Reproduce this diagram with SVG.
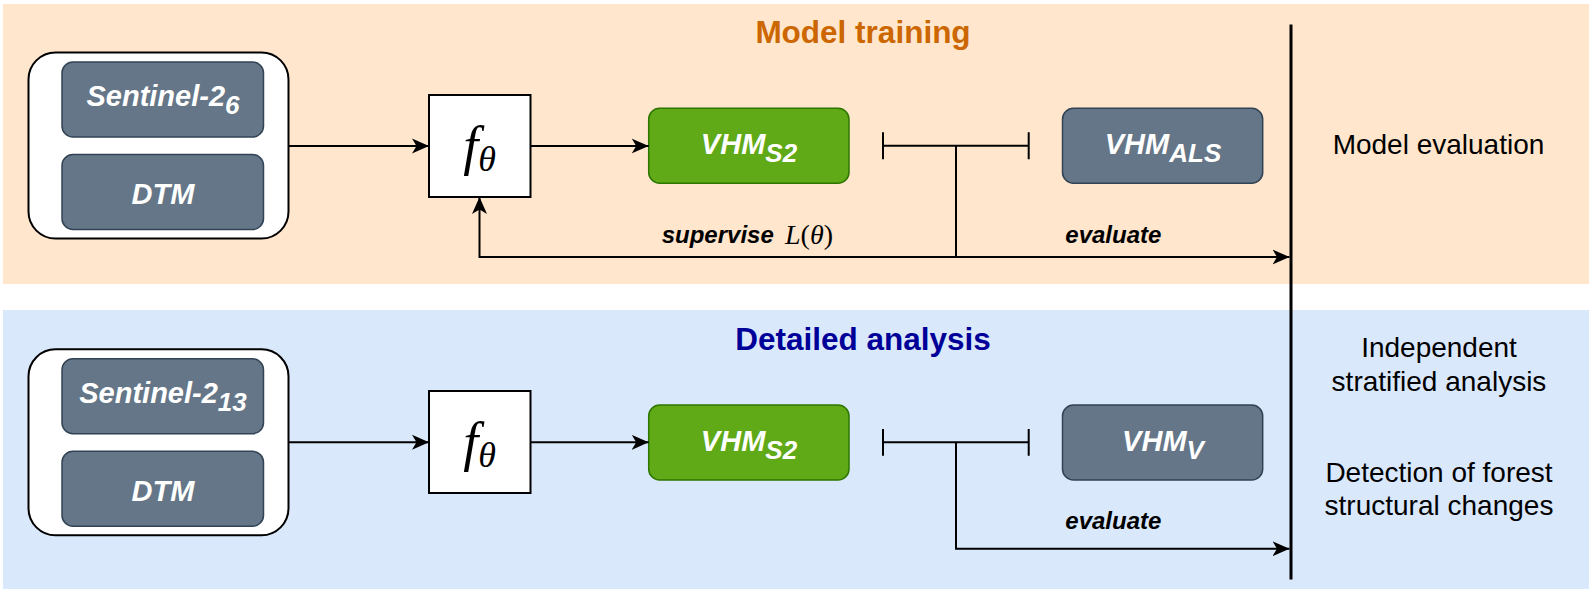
<svg xmlns="http://www.w3.org/2000/svg" width="1592" height="598" viewBox="0 0 1592 598">
<defs>
<style>
.band-o{fill:#FFE6CC}
.band-b{fill:#DAE8FC}
.outer{fill:#fff;stroke:#000;stroke-width:2}
.gray{fill:#647687;stroke:#314354;stroke-width:1.5}
.green{fill:#60A917;stroke:#2D7600;stroke-width:1.5}
.fbox{fill:#fff;stroke:#000;stroke-width:2}
.lbl{font-family:"Liberation Sans",Arial,sans-serif;font-weight:bold;font-style:italic;fill:#fff;font-size:29px;text-anchor:middle}
.sub{font-size:26px}
.edge{fill:none;stroke:#000;stroke-width:2}
.elbl{font-family:"Liberation Sans",Arial,sans-serif;font-weight:bold;font-style:italic;font-size:24px;fill:#000}
.title{font-family:"Liberation Sans",Arial,sans-serif;font-weight:bold;font-size:31.5px;text-anchor:middle}
.side{font-family:"Liberation Sans",Arial,sans-serif;font-size:28px;text-anchor:middle;fill:#000}
.math{font-family:"Liberation Serif","Times New Roman",serif;fill:#000}
</style>
<marker id="arr" markerUnits="userSpaceOnUse" markerWidth="18" markerHeight="16" refX="17" refY="8" orient="auto" viewBox="0 0 18 16"><path d="M0,0.5 L17,8 L0,15.5 L4.5,8 Z" fill="#000"/></marker>
</defs>

<g id="band-training">
<rect class="band-o" x="3" y="4" width="1586" height="280"/>
<text class="title" x="863" y="43" fill="#CC6600">Model training</text>
</g>
<g id="band-analysis">
<rect class="band-b" x="3" y="310" width="1586" height="279"/>
<text class="title" x="863" y="350" fill="#000099">Detailed analysis</text>
</g>

<g id="input-top">
<rect class="outer" x="28.5" y="52.5" width="260" height="186" rx="27"/>
<rect class="gray" x="62" y="62" width="201.5" height="75" rx="11"/>
<text class="lbl" x="163" y="106">Sentinel-2<tspan class="sub" dy="8">6</tspan></text>
<rect class="gray" x="62" y="154.5" width="201.5" height="75" rx="11"/>
<text class="lbl" x="163" y="204">DTM</text>
</g>

<g id="model-top">
<rect class="fbox" x="429" y="95" width="101.5" height="102"/>
<text class="math" x="479.5" y="163.5" text-anchor="middle"><tspan font-style="italic" font-size="54">f</tspan><tspan font-style="italic" font-size="36" dy="7.5">θ</tspan></text>
</g>

<g id="vhms2-top">
<rect class="green" x="648.7" y="108.3" width="200.3" height="75" rx="11"/>
<text class="lbl" x="749" y="154">VHM<tspan class="sub" dy="8">S2</tspan></text>
</g>

<g id="vhmals">
<rect class="gray" x="1062.5" y="108.3" width="200.2" height="75" rx="11"/>
<text class="lbl" x="1163" y="154">VHM<tspan class="sub" dy="8">ALS</tspan></text>
</g>

<g id="input-bottom">
<rect class="outer" x="28.5" y="349.3" width="260" height="186" rx="27"/>
<rect class="gray" x="62" y="358.7" width="201.5" height="75" rx="11"/>
<text class="lbl" x="163" y="403">Sentinel-2<tspan class="sub" dy="8">13</tspan></text>
<rect class="gray" x="62" y="451.3" width="201.5" height="75" rx="11"/>
<text class="lbl" x="163" y="500.7">DTM</text>
</g>

<g id="model-bottom">
<rect class="fbox" x="429" y="391" width="101.5" height="102"/>
<text class="math" x="479.5" y="459.8" text-anchor="middle"><tspan font-style="italic" font-size="54">f</tspan><tspan font-style="italic" font-size="36" dy="7.5">θ</tspan></text>
</g>

<g id="vhms2-bottom">
<rect class="green" x="648.7" y="405" width="200.3" height="75" rx="11"/>
<text class="lbl" x="749" y="450.7">VHM<tspan class="sub" dy="8">S2</tspan></text>
</g>

<g id="vhmv">
<rect class="gray" x="1062.5" y="405" width="200.2" height="75" rx="11"/>
<text class="lbl" x="1163" y="450.7">VHM<tspan class="sub" dy="8">V</tspan></text>
</g>

<g id="evaluation-bar">
<line x1="1291" y1="24.5" x2="1291" y2="579.5" stroke="#000" stroke-width="3"/>
<text class="side" x="1438.5" y="154">Model evaluation</text>
<text class="side" x="1439" y="357">Independent</text>
<text class="side" x="1439" y="390.7">stratified analysis</text>
<text class="side" x="1439" y="481.7">Detection of forest</text>
<text class="side" x="1439" y="515">structural changes</text>
</g>

<g id="connectors">
<path class="edge" d="M288.5,146 L429,146" marker-end="url(#arr)"/>
<path class="edge" d="M530.5,146 L648.7,146" marker-end="url(#arr)"/>
<path class="edge" d="M883,145.7 L1028.7,145.7 M883,132.3 L883,159.3 M1028.7,132.3 L1028.7,159.3"/>
<path class="edge" d="M956,145.7 L956,257 L479.5,257 L479.5,197" marker-end="url(#arr)"/>
<path class="edge" d="M956,257 L1289.5,257" marker-end="url(#arr)"/>
<text class="elbl" x="661.7" y="243">supervise</text>
<text class="math" x="785" y="244" font-size="28"><tspan font-style="italic">L</tspan>(<tspan font-style="italic">θ</tspan>)</text>
<text class="elbl" x="1065.3" y="243">evaluate</text>

<path class="edge" d="M288.5,442.3 L429,442.3" marker-end="url(#arr)"/>
<path class="edge" d="M530.5,442.3 L648.7,442.3" marker-end="url(#arr)"/>
<path class="edge" d="M883,442.3 L1028.7,442.3 M883,429 L883,455.7 M1028.7,429 L1028.7,455.7"/>
<path class="edge" d="M956,442.3 L956,548.7 L1289.5,548.7" marker-end="url(#arr)"/>
<text class="elbl" x="1065.3" y="529">evaluate</text>
</g>
</svg>
